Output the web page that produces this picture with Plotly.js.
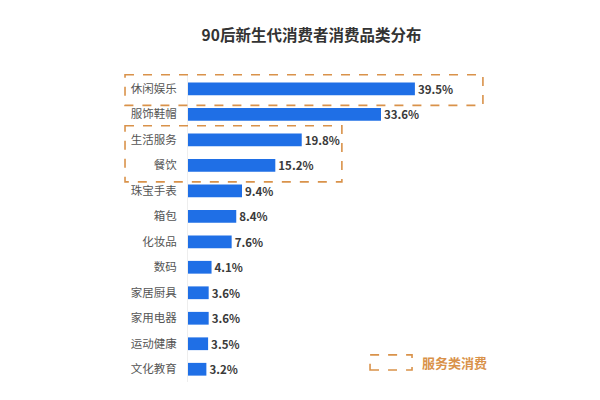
<!DOCTYPE html>
<html><head><meta charset="utf-8">
<script src="https://cdn.plot.ly/plotly-3.0.1.min.js"></script>
<style>html,body{margin:0;padding:0;background:#fff}#c{width:600px;height:400px}</style>
</head><body><div id="c"></div>
<script>
var categories = ["休闲娱乐","服饰鞋帽","生活服务","餐饮","珠宝手表","箱包","化妆品","数码","家居厨具","家用电器","运动健康","文化教育"];
var values = [39.5,33.6,19.8,15.2,9.4,8.4,7.6,4.1,3.6,3.6,3.5,3.2];
var valueLabels = ["39.5%","33.6%","19.8%","15.2%","9.4%","8.4%","7.6%","4.1%","3.6%","3.6%","3.5%","3.2%"];
var titleText = "90后新生代消费者消费品类分布";
var legendText = "服务类消费";
var serviceGroups = [["休闲娱乐"],["生活服务","餐饮"]];

var orange = "#d9924a";
var font = "Noto Sans CJK SC, sans-serif";

var trace = {
  type: "bar", orientation: "h",
  x: values, y: categories,
  text: valueLabels, textposition: "outside", cliponaxis: false, constraintext: "none",
  textfont: {family: font, size: 11.5, color: "#3a3a3a", weight: "bold"},
  marker: {color: "#1f6fe6"},
  hoverinfo: "none"
};

function idx(c){ return categories.indexOf(c); }
var shapes = [];
var boxX = [[-0.255, 1.194], [-0.255, 0.623]];
serviceGroups.forEach(function(g, i){
  shapes.push({type:"rect", xref:"paper", yref:"y",
    x0: boxX[i][0], x1: boxX[i][1],
    y0: idx(g[0]) - 0.55, y1: idx(g[g.length-1]) + 0.65,
    line:{color:orange, width:1.6, dash:"dash"}, fillcolor:"rgba(0,0,0,0)", layer:"above"});
});
// legend swatch
shapes.push({type:"rect", xref:"paper", yref:"paper", x0:0.737, x1:0.907, y0:0.039, y1:0.088,
  line:{color:orange, width:1.6, dash:"dash"}, fillcolor:"rgba(0,0,0,0)"});

var layout = {
  width: 600, height: 400,
  margin: {l: 188, r: 165, t: 74, b: 18},
  paper_bgcolor: "#fff", plot_bgcolor: "#fff",
  title: {text: titleText, x: 0.5, xref: "paper", xanchor: "center", y: 0.925, yref: "container",
    font: {family: font, size: 15.5, color: "#333", weight: "bold"}},
  xaxis: {range: [0, 43], visible: false, fixedrange: true},
  yaxis: {type: "category", autorange: "reversed", showgrid: false, zeroline: false,
    showline: true, linecolor: "#eeeeee", linewidth: 1,
    ticks: "", ticklabelstandoff: 8,
    tickfont: {family: font, size: 11.5, color: "#555"}},
  bargap: 0.5,
  showlegend: false,
  shapes: shapes,
  annotations: [{xref:"paper", yref:"paper", x:0.94, y:0.063, xanchor:"left", yanchor:"middle",
    text: legendText, showarrow:false, font:{family:font, size:13, color:orange, weight:"bold"}}]
};
Plotly.newPlot("c", [trace], layout, {displayModeBar:false, staticPlot:true});
</script></body></html>
